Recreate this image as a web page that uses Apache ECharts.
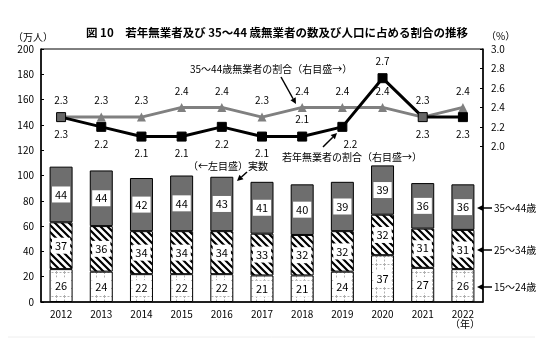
<!DOCTYPE html>
<html><head><meta charset="utf-8">
<script src="https://cdn.jsdelivr.net/npm/echarts@6/dist/echarts.min.js"></script>
<style>html,body{margin:0;padding:0;background:#fff}#c{width:543px;height:349px}</style>
</head><body><div id="c"></div>
<script>
// ---- data ----
const years = ['2012','2013','2014','2015','2016','2017','2018','2019','2020','2021','2022'];
const age15_24 = [26,24,22,22,22,21,21,24,37,27,26];
const age25_34 = [37,36,34,34,34,33,32,32,32,31,31];
const age35_44 = [44,44,42,44,43,41,40,39,39,36,36];
const youthRate = [2.3,2.2,2.1,2.1,2.2,2.1,2.1,2.2,2.7,2.3,2.3];
const midRate = [2.3,2.3,2.3,2.4,2.4,2.3,2.4,2.4,2.4,2.3,2.4];
const leftTicks = [0,20,40,60,80,100,120,140,160,180,200];
const rightTicks = [2.0,2.2,2.4,2.6,2.8,3.0];

// ---- styles ----
const FONT = '"Noto Sans CJK JP", "Noto Sans", sans-serif';
const blackLabelPos = ['bottom','bottom','bottom','bottom','bottom','bottom','top','bottom','top','bottom','bottom'];

function hatch(){
  const s=7, c=document.createElement('canvas'); c.width=c.height=s;
  const g=c.getContext('2d'); g.fillStyle='#fff'; g.fillRect(0,0,s,s);
  g.strokeStyle='#000'; g.lineWidth=2.2; g.beginPath();
  for(const o of [-s,0,s]){ g.moveTo(o-1,-1); g.lineTo(o+s+1,s+1); }
  g.stroke(); return c;
}
function grid(){
  const s=8, c=document.createElement('canvas'); c.width=c.height=s;
  const g=c.getContext('2d'); g.fillStyle='#fff'; g.fillRect(0,0,s,s);
  g.strokeStyle='#b0b0b0'; g.lineWidth=1; g.setLineDash([2,1.5]);
  g.beginPath(); g.moveTo(0.5,0); g.lineTo(0.5,s); g.moveTo(0,0.5); g.lineTo(s,0.5); g.stroke();
  return c;
}
function arrow(x1,y1,x2,y2){
  const a=Math.atan2(y2-y1,x2-x1), L=6, W=3;
  const bx=x2-L*Math.cos(a), by=y2-L*Math.sin(a);
  const px=-Math.sin(a)*W, py=Math.cos(a)*W;
  return [
    {type:'line', shape:{x1:x1,y1:y1,x2:bx,y2:by}, style:{stroke:'#000',lineWidth:1.5}},
    {type:'polygon', shape:{points:[[x2,y2],[bx+px,by+py],[bx-px,by-py]]}, style:{fill:'#000'}}
  ];
}
function txt(x,y,t,opts){
  return Object.assign({type:'text', x:x, y:y, style:Object.assign({text:t, font:'10px '+FONT, fill:'#000', textVerticalAlign:'middle', verticalAlign:'middle'}, opts||{})});
}

const chart = echarts.init(document.getElementById('c'), null, {renderer:'canvas'});
const barLabel = {show:true, position:'inside', color:'#000', fontSize:11, fontFamily:FONT, backgroundColor:'#fff', padding:[3,3,2,3]};
const gray='#808080';

const option = {
  animation:false,
  backgroundColor:'#fff',
  title:{text:'図 10　若年無業者及び 35～44 歳無業者の数及び人口に占める割合の推移', left:81, top:22,
    textStyle:{fontSize:11.5, fontWeight:'bold', fontFamily:FONT, color:'#000'}},
  grid:{left:41, right:60, top:49, bottom:47, show:true, borderColor:'#000', borderWidth:1},
  xAxis:{type:'category', data:years, axisTick:{show:false},
    axisLine:{lineStyle:{color:'#000', width:1.5}},
    axisLabel:{color:'#000', fontSize:10, fontFamily:FONT, margin:7}},
  yAxis:[
    {type:'value', min:0, max:200, interval:20, splitLine:{show:false},
     axisLine:{show:true, lineStyle:{color:'#000', width:1.5}},
     axisTick:{show:true, inside:true, length:3, lineStyle:{color:'#000'}},
     axisLabel:{color:'#000', fontSize:10, fontFamily:FONT, margin:7, customValues:leftTicks}},
    {type:'value', min:0.4, max:3.0, interval:0.2, splitLine:{show:false},
     axisLine:{show:true, lineStyle:{color:'#000', width:1.5}},
     axisTick:{show:true, inside:true, length:3, customValues:rightTicks, lineStyle:{color:'#000'}},
     axisLabel:{color:'#000', fontSize:10, fontFamily:FONT, margin:8, customValues:rightTicks,
       formatter:v=>Number(v).toFixed(1)}}
  ],
  series:[
    {name:'15～24歳', type:'bar', stack:'a', barWidth:23, data:age15_24,
     itemStyle:{color:{image:grid(), repeat:'repeat'}, borderColor:'#000', borderWidth:1}, label:barLabel},
    {name:'25～34歳', type:'bar', stack:'a', barWidth:23, data:age25_34,
     itemStyle:{color:{image:hatch(), repeat:'repeat'}, borderColor:'#000', borderWidth:1}, label:barLabel},
    {name:'35～44歳', type:'bar', stack:'a', barWidth:23, data:age35_44,
     itemStyle:{color:'#6e6e6e', borderColor:'#000', borderWidth:1}, label:barLabel},
    {name:'若年無業者の割合', type:'line', yAxisIndex:1, z:5,
     data:youthRate.map((v,i)=>({value:v, label:{position:blackLabelPos[i], offset: i===7?[8,0]:[0,0]}})),
     symbol:'rect', symbolSize:9,
     lineStyle:{color:'#000', width:3}, itemStyle:{color:(p)=> youthRate[p.dataIndex]===midRate[p.dataIndex]?'#666':'#000', borderColor:'#000', borderWidth:1},
     label:{show:true, color:'#000', fontSize:10, fontFamily:FONT, distance:7, formatter:p=>Number(p.value).toFixed(1)}},
    {name:'35～44歳無業者の割合', type:'line', yAxisIndex:1, z:4,
     data:midRate, symbol:'triangle', symbolSize:9,
     lineStyle:{color:gray, width:3}, itemStyle:{color:gray},
     label:{show:true, position:'top', color:'#000', fontSize:10, fontFamily:FONT, distance:7, formatter:p=>Number(p.value).toFixed(1)}}
  ],
  graphic:[].concat(
    [txt(13,37,'（万人）',{font:'10px '+FONT})],
    [txt(486,36,'（%）',{font:'10px '+FONT})],
    [txt(465,324,'（年）',{font:'10px '+FONT, textAlign:'center', align:'center'})],
    [txt(190,69,'35～44歳無業者の割合（右目盛→）')], arrow(281,77,296,104),
    [txt(282,157,'若年無業者の割合（右目盛→）')], arrow(323,147,337,133),
    [txt(188,166,'（←左目盛）実数')], arrow(247,172,237,181),
    arrow(492,208,477,208), [txt(494,208,'35～44歳')],
    arrow(492,250,477,250), [txt(494,250,'25～34歳')],
    arrow(492,287,477,287), [txt(494,287,'15～24歳')],
    [{type:'line', shape:{x1:8,y1:337,x2:535,y2:337}, style:{stroke:'#eeeeee', lineWidth:1}}]
  )
};
chart.setOption(option);
</script></body></html>
